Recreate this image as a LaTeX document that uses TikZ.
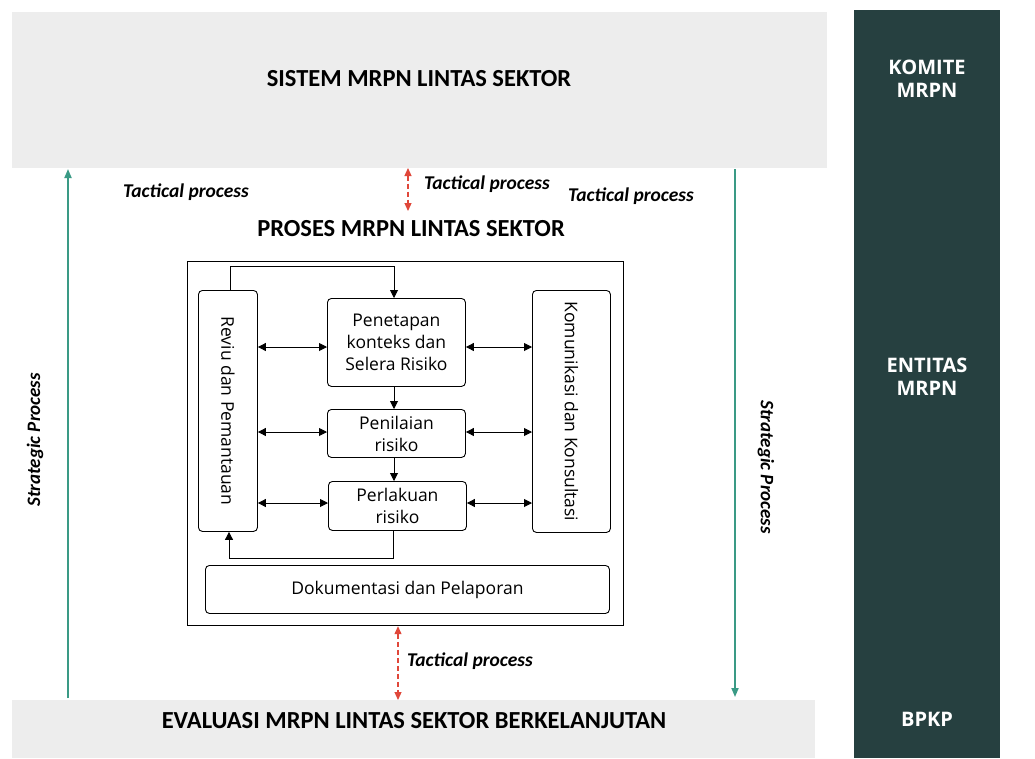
\documentclass[tikz,border=0pt]{standalone}
\usepackage{fontspec}
\setmainfont{Open Sans}
\newfontfamily\condfont{Carlito}
\usetikzlibrary{arrows.meta}
\definecolor{panelgray}{HTML}{EDEDED}
\definecolor{darkpanel}{HTML}{264040}
\definecolor{tealline}{HTML}{3A9A85}
\definecolor{redline}{HTML}{E0473A}
\tikzset{
  band/.style={fill=panelgray, draw=none},
  sidepanel/.style={fill=darkpanel, draw=none},
  title/.style={font=\condfont\bfseries\fontsize{24.5}{28}\selectfont, text=black},
  sidetext/.style={font=\bfseries\fontsize{20}{23}\selectfont, text=white, align=center},
  tact/.style={font=\condfont\bfseries\itshape\fontsize{19.5}{22}\selectfont},
  strat/.style={font=\condfont\bfseries\itshape\fontsize{19}{22}\selectfont},
  procbox/.style={draw=black, line width=0.9pt, rounded corners=4pt, inner sep=0pt},
  boxtext/.style={font=\fontsize{17.5}{22}\selectfont, align=center},
  flow/.style={-{Triangle[length=8pt,width=8pt]}, line width=0.9pt},
  biflow/.style={{Triangle[length=8pt,width=8pt]}-{Triangle[length=8pt,width=8pt]}, line width=0.9pt},
  strategic/.style={-{Triangle[length=9pt,width=7pt]}, draw=tealline, line width=1.8pt},
  tactical/.style={{Triangle[length=8pt,width=7pt]}-{Triangle[length=8pt,width=7pt]}, draw=redline, line width=1.2pt, dash pattern=on 5pt off 3pt}
}
\begin{document}
\begin{tikzpicture}[x=1pt,y=-1pt]
\useasboundingbox (0,0) rectangle (1035,758);
\fill[white] (0,0) rectangle (1035,758);

% bands
\node[band, minimum width=815pt, minimum height=156pt, anchor=north west] (top) at (12,12) {};
\node[band, minimum width=803pt, minimum height=58pt, anchor=north west] (bottom) at (12,700) {};
\node[sidepanel, minimum width=146pt, minimum height=748pt, anchor=north west] (side) at (854,10) {};

\node[title] (ttop) at (419,79) {SISTEM MRPN LINTAS SEKTOR};
\node[title] (tbot) at (414,721) {EVALUASI MRPN LINTAS SEKTOR BERKELANJUTAN};
\node[title] (tproc) at (411,229) {PROSES MRPN LINTAS SEKTOR};

\node[sidetext] (komite) at (927,79) {KOMITE\\MRPN};
\node[sidetext] (entitas) at (927,377) {ENTITAS\\MRPN};
\node[sidetext] (bpkp) at (927,719) {BPKP};

% strategic arrows
\coordinate (sl1) at (68,698);
\coordinate (sl2) at (68,169);
\coordinate (sr1) at (735,169);
\coordinate (sr2) at (735,697);
\draw[strategic] (sl1) -- (sl2);
\draw[strategic] (sr1) -- (sr2);
\node[strat, rotate=90] (stl) at (35,440) {Strategic Process};
\node[strat, rotate=-90] (str) at (766,467) {Strategic Process};

% tactical labels and arrows
\node[tact] (tac1) at (186,192) {Tactical process};
\node[tact] (tac2) at (487,184) {Tactical process};
\node[tact] (tac3) at (631,196) {Tactical process};
\node[tact] (tac4) at (470,661) {Tactical process};
\coordinate (ta1) at (408,168);
\coordinate (ta2) at (408,211);
\draw[tactical] (ta1) -- (ta2);

% outer process box
\node[draw=black, line width=1.2pt, minimum width=436pt, minimum height=364pt, anchor=north west, inner sep=0pt] (outer) at (187,261) {};
\coordinate (ta3) at (398,700);
\draw[tactical] (outer.south -| ta3) -- (ta3);

% inner boxes
\node[procbox, minimum width=59pt, minimum height=241pt, anchor=north west] (reviu) at (198,290) {};
\node[boxtext, rotate=-90] at (reviu.center) {Reviu dan Pemantauan};
\node[procbox, minimum width=78pt, minimum height=242pt, anchor=north west] (komu) at (532,290) {};
\node[boxtext, rotate=-90] at (komu.center) {Komunikasi dan Konsultasi};
\node[procbox, minimum width=138pt, minimum height=88pt, anchor=north west, boxtext] (pene) at (327,298) {Penetapan\\konteks dan\\Selera Risiko};
\node[procbox, minimum width=138pt, minimum height=48pt, anchor=north west, boxtext] (peni) at (327,409) {Penilaian\\risiko};
\node[procbox, minimum width=138pt, minimum height=49pt, anchor=north west, boxtext] (perl) at (328,481) {Perlakuan\\risiko};
\node[procbox, minimum width=404pt, minimum height=48pt, anchor=north west, boxtext] (doku) at (205,565) {Dokumentasi dan Pelaporan};

% flows
\coordinate (loopT1) at (230,266);
\coordinate (loopT2) at (394,266);
\draw[flow] (reviu.north -| loopT1) -- (loopT1) -- (loopT2) -- (pene.north -| loopT2);
\draw[flow] (pene.south -| loopT2) -- (peni.north -| loopT2);
\draw[flow] (peni.south -| loopT2) -- (perl.north -| loopT2);
\coordinate (loopB1) at (393,558);
\coordinate (loopB2) at (229,558);
\draw[flow] (perl.south -| loopB1) -- (loopB1) -- (loopB2) -- (reviu.south -| loopB2);

% bidirectional
\foreach \yy/\bx in {347/pene, 432/peni, 503/perl} {
  \coordinate (h) at (0,\yy);
  \draw[biflow] (reviu.east |- h) -- (\bx.west |- h);
  \draw[biflow] (\bx.east |- h) -- (komu.west |- h);
}
\end{tikzpicture}
\end{document}
